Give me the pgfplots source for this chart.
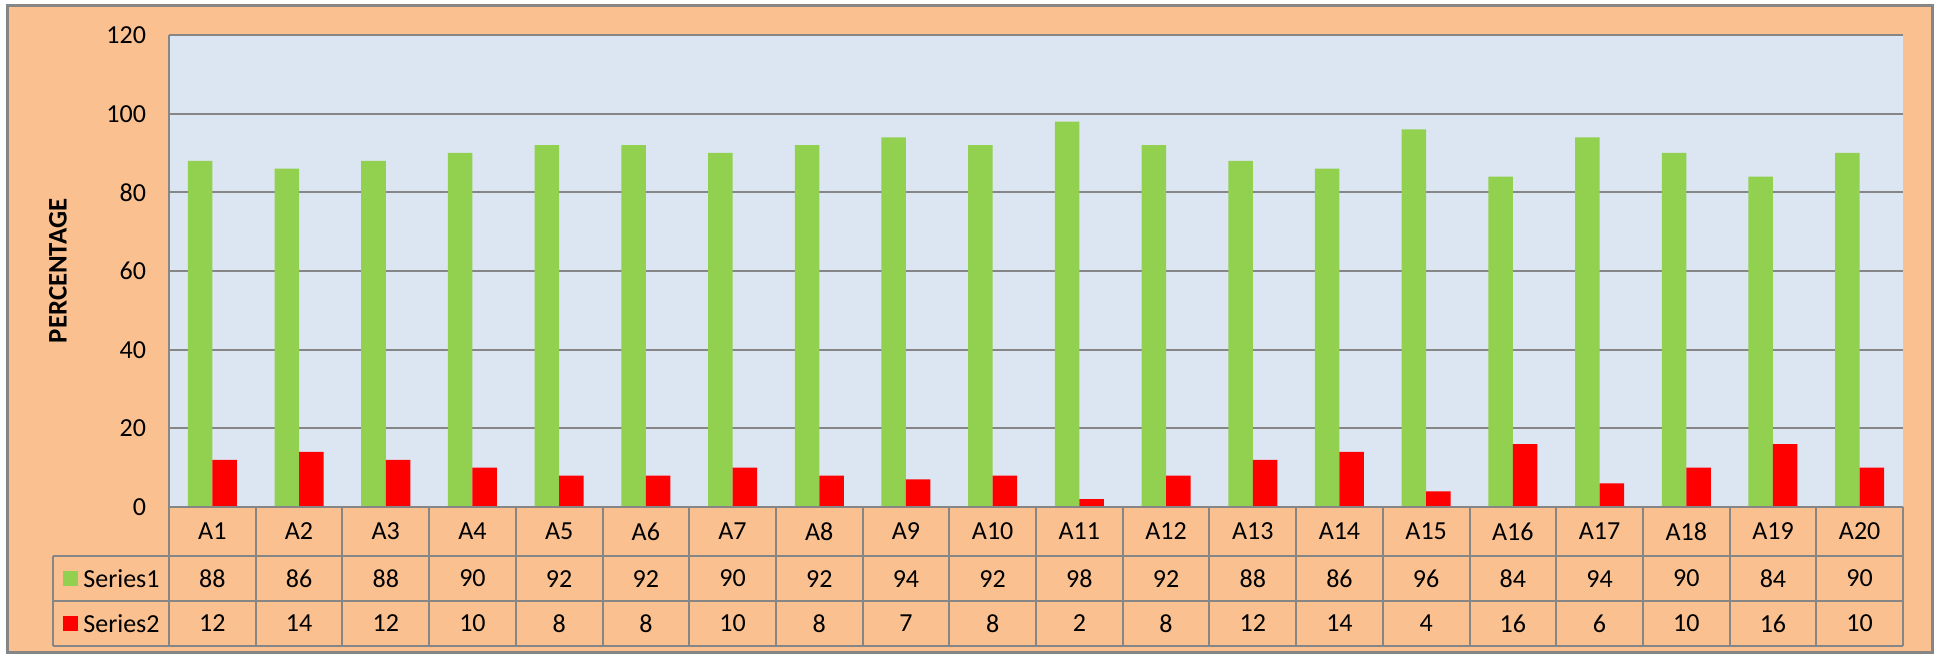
\documentclass[border=0pt]{standalone}
\usepackage{pgfplots}
\pgfplotsset{compat=1.18}
\usepackage{pgfplotstable}
\usepackage{fontspec}
\setmainfont{Carlito}
\usetikzlibrary{backgrounds,calc}

\definecolor{panel}{HTML}{FAC090}
\definecolor{plotbg}{HTML}{DCE6F2}
\definecolor{sone}{HTML}{92D050}
\definecolor{stwo}{HTML}{FF0000}
\definecolor{gridgray}{HTML}{868686}

% category, Series1, Series2
\pgfplotstableread{
x cat s1 s2
0 A1 88 12
1 A2 86 14
2 A3 88 12
3 A4 90 10
4 A5 92 8
5 A6 92 8
6 A7 90 10
7 A8 92 8
8 A9 94 7
9 A10 92 8
10 A11 98 2
11 A12 92 8
12 A13 88 12
13 A14 86 14
14 A15 96 4
15 A16 84 16
16 A17 94 6
17 A18 90 10
18 A19 84 16
19 A20 90 10
}\results

\begin{document}
\begin{tikzpicture}[font=\fontsize{13}{15}\selectfont]
\begin{axis}[
    name=ax,
    scale only axis,
    width=867pt, height=236pt,
    xmin=-0.5, xmax=19.5,
    ymin=0, ymax=120,
    ytick={0,20,...,120},
    xtick=data,
    xticklabels from table={\results}{cat},
    xticklabel style={anchor=center, yshift=-12.25pt},
    yticklabel style={xshift=-8pt},
    tick style={draw=none},
    ymajorgrids=true,
    grid style={gridgray, line width=1pt},
    axis x line*=bottom,
    axis y line*=left,
    axis line style={gridgray, line width=1pt},
    axis background/.style={fill=plotbg},
    /pgf/number format/assume math mode=true,
    ylabel={\textbf{PERCENTAGE}},
    ylabel style={at={(axis description cs:-0.064,0.5)}, anchor=center,
                  font=\fontsize{13.4}{15}\selectfont},
    clip=false,
]

% bars
\addplot[ybar, bar width=0.2826, bar shift=-0.1413, fill=sone, draw=none]
    table[x=x, y=s1] {\results};
\addplot[ybar, bar width=0.2826, bar shift=0.1413, fill=stwo, draw=none]
    table[x=x, y=s2] {\results};

% data table rows
\addplot[draw=none, mark=none, nodes near coords, point meta=explicit,
         every node near coord/.style={anchor=center}]
    table[x=x, y expr=-18.2, meta=s1] {\results};
\addplot[draw=none, mark=none, nodes near coords, point meta=explicit,
         every node near coord/.style={anchor=center}]
    table[x=x, y expr=-29.6, meta=s2] {\results};

% table grid
\draw[gridgray, line width=1pt] (axis cs:-0.5,0) -- (axis cs:19.5,0);
\draw[gridgray, line width=1pt] (axis cs:-1.838,-12.46) -- (axis cs:19.5,-12.46);
\draw[gridgray, line width=1pt] (axis cs:-1.838,-23.90) -- (axis cs:19.5,-23.90);
\draw[gridgray, line width=1pt] (axis cs:-1.838,-35.34) -- (axis cs:19.5,-35.34);
\draw[gridgray, line width=1pt] (axis cs:-1.838,-12.46) -- (axis cs:-1.838,-35.34);
\foreach \k in {0,...,20} {
    \edef\temp{\noexpand\draw[gridgray, line width=1pt]
        (axis cs:\k-0.5,0) -- (axis cs:\k-0.5,-35.34);}
    \temp
}

% legend keys
\fill[sone] (axis cs:-1.7226,-16.3) rectangle (axis cs:-1.5496,-20.1);
\fill[stwo] (axis cs:-1.7226,-27.7) rectangle (axis cs:-1.5496,-31.5);
\node[anchor=west, inner sep=0] at (axis cs:-1.492,-18.2) {Series1};
\node[anchor=west, inner sep=0] at (axis cs:-1.492,-29.6) {Series2};
\end{axis}

\begin{scope}[on background layer]
\fill[panel, draw=gridgray, line width=1.5pt]
    ($(ax.south west)+(-80.5pt,-73pt)$) rectangle ($(ax.south west)+(881.5pt,250.5pt)$);
\end{scope}
\path ($(ax.south west)+(-84.5pt,-74.5pt)$) rectangle ($(ax.south west)+(884pt,253.5pt)$);
\end{tikzpicture}
\end{document}
